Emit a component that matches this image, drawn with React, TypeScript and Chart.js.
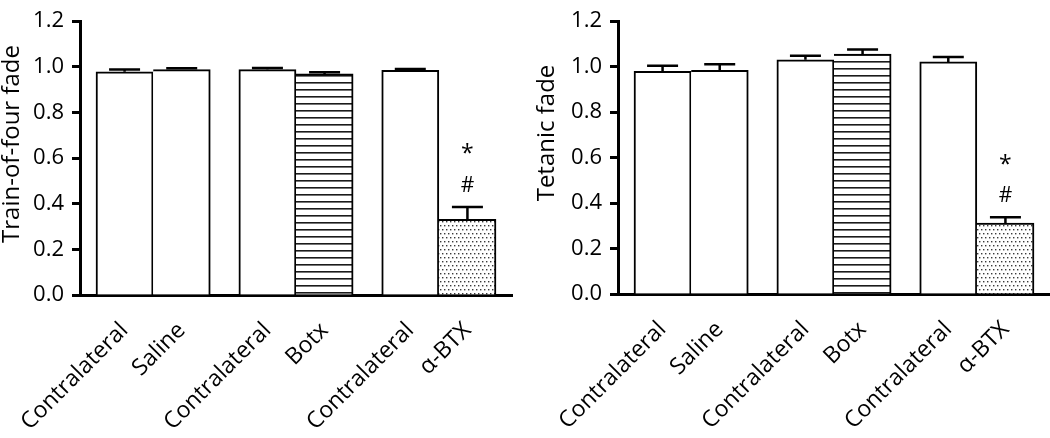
import React, { useEffect, useRef } from 'react';
import { Chart, registerables } from 'chart.js';

Chart.register(...registerables);

// ---------- data ----------
const categories = ['Contralateral', 'Saline', 'Contralateral', 'Botx', 'Contralateral', 'α-BTX'];
const tofValues = [0.978, 0.988, 0.988, 0.969, 0.985, 0.332];
const tofErrors = [0.010, 0.006, 0.007, 0.007, 0.006, 0.054];
const tetanicValues = [0.980, 0.984, 1.030, 1.055, 1.021, 0.312];
const tetanicErrors = [0.024, 0.027, 0.018, 0.020, 0.021, 0.026];
const yTickValues = [0, 0.2, 0.4, 0.6, 0.8, 1.0, 1.2];
const markedBarIndex = 5;
const markerSymbols = ['*', '#'];

// ---------- layout / style ----------
const FONT = '"Open Sans", sans-serif';
Chart.defaults.font.family = FONT;
Chart.defaults.color = '#000';

// bars come in groups of two (contralateral + treated), half a bar gap between groups
const barPositions = categories.map((_, i) => Math.floor(i / 2) * 2.5 + (i % 2));
const fillKinds = ['plain', 'plain', 'plain', 'stripes', 'plain', 'dots'];

function makeStripes(ctx: CanvasRenderingContext2D) {
  const c = document.createElement('canvas');
  c.width = 8;
  c.height = 7;
  const g = c.getContext('2d')!;
  g.fillStyle = '#fff';
  g.fillRect(0, 0, 8, 7);
  g.fillStyle = '#1a1a1a';
  g.fillRect(0, 5, 8, 1.6);
  return ctx.createPattern(c, 'repeat')!;
}

function makeDots(ctx: CanvasRenderingContext2D) {
  const c = document.createElement('canvas');
  c.width = 4;
  c.height = 8;
  const g = c.getContext('2d')!;
  g.fillStyle = '#fff';
  g.fillRect(0, 0, 4, 8);
  g.fillStyle = '#3a3a3a';
  g.fillRect(0, 1, 1.4, 1.4);
  g.fillRect(2, 5, 1.4, 1.4);
  return ctx.createPattern(c, 'repeat')!;
}

type PanelProps = {
  values: number[];
  errors: number[];
  title: string;
  titleY: number;
  left: number;
  width: number;
  axisWidth: number;
  padRight: number;
  axisHeight: number;
  padTop: number;
  marked: boolean;
};

function Panel(p: PanelProps) {
  const ref = useRef<HTMLCanvasElement>(null);
  useEffect(() => {
    const canvas = ref.current!;
    const ctx = canvas.getContext('2d')!;
    const stripes = makeStripes(ctx);
    const dots = makeDots(ctx);
    const fills = fillKinds.map((k) => (k === 'stripes' ? stripes : k === 'dots' ? dots : '#fff'));

    const annotatePlugin = {
      id: 'errorBarsAndTitle',
      afterDatasetsDraw(chart: any) {
        const c = chart.ctx as CanvasRenderingContext2D;
        const y = chart.scales.y;
        const meta = chart.getDatasetMeta(0);
        c.save();
        c.strokeStyle = '#000';
        c.lineWidth = 2.5;
        meta.data.forEach((bar: any, i: number) => {
          const v = p.values[i];
          const e = p.errors[i];
          const yBar = y.getPixelForValue(v);
          const yTop = y.getPixelForValue(v + e);
          c.beginPath();
          c.moveTo(bar.x, yBar);
          c.lineTo(bar.x, yTop);
          c.moveTo(bar.x - 15.5, yTop);
          c.lineTo(bar.x + 15.5, yTop);
          c.stroke();
          if (p.marked && i === markedBarIndex) {
            c.fillStyle = '#000';
            c.textAlign = 'center';
            c.textBaseline = 'middle';
            c.font = `21px ${FONT}`;
            c.fillText(markerSymbols[1], bar.x, yTop - 21);
            c.font = `23px ${FONT}`;
            c.fillText(markerSymbols[0], bar.x, yTop - 52);
          }
        });
        // y-axis title
        c.translate(12, p.titleY);
        c.rotate(-Math.PI / 2);
        c.fillStyle = '#000';
        c.textAlign = 'center';
        c.textBaseline = 'middle';
        c.font = `24px ${FONT}`;
        c.fillText(p.title, 0, 0);
        c.restore();
      },
    };

    const chart = new Chart(canvas, {
      type: 'bar',
      data: {
        datasets: [
          {
            label: p.title,
            data: p.values.map((v, i) => ({ x: barPositions[i], y: v })),
            backgroundColor: fills as any,
            borderColor: '#000',
            borderWidth: ((c: any) =>
              c.dataIndex % 2 === 1 ? { top: 2, right: 2, left: 0, bottom: 0 } : 2) as any,
            categoryPercentage: 1,
            barPercentage: 1,
          },
        ],
      },
      options: {
        animation: false,
        responsive: false,
        layout: { padding: { top: p.padTop, right: p.padRight, left: 0, bottom: 0 } },
        plugins: { legend: { display: false }, tooltip: { enabled: false } },
        scales: {
          x: {
            type: 'linear',
            min: -0.78,
            max: 6.78,
            offset: false,
            grid: { display: false },
            border: { display: true, color: '#000', width: 3 },
            afterBuildTicks: (s: any) => {
              s.ticks = barPositions.map((v) => ({ value: v }));
            },
            afterFit: (s: any) => {
              s.height = p.axisHeight;
            },
            ticks: {
              autoSkip: false,
              minRotation: 45,
              maxRotation: 45,
              padding: 14,
              font: { size: 23 },
              color: '#000',
              callback: (_v: any, i: number) => categories[i],
            },
          },
          y: {
            type: 'linear',
            min: 0,
            max: 1.2,
            grid: {
              display: true,
              drawOnChartArea: false,
              drawTicks: true,
              tickLength: 8,
              tickWidth: 3,
              tickColor: '#000',
            },
            border: { display: true, color: '#000', width: 3 },
            afterBuildTicks: (s: any) => {
              s.ticks = yTickValues.map((v) => ({ value: v }));
            },
            afterFit: (s: any) => {
              s.width = p.axisWidth;
            },
            ticks: {
              padding: 8,
              font: { size: 22 },
              color: '#000',
              callback: (v: any) => Number(v).toFixed(1),
            },
            title: { display: false },
          },
        },
      },
      plugins: [annotatePlugin],
    } as any);
    return () => chart.destroy();
  }, []);
  return (
    <div style={{ position: 'absolute', left: p.left, top: 0, width: p.width, height: 438 }}>
      <canvas ref={ref} width={p.width} height={438} style={{ display: 'block' }} />
    </div>
  );
}

export default function App() {
  return (
    <div style={{ position: 'absolute', left: 0, top: 0, width: 1050, height: 438, background: '#fff' }}>
      <Panel
        values={tofValues}
        errors={tofErrors}
        title="Train-of-four fade"
        titleY={144}
        left={0}
        width={525}
        axisWidth={80}
        padRight={13}
        axisHeight={143}
        padTop={12}
        marked={true}
      />
      <Panel
        values={tetanicValues}
        errors={tetanicErrors}
        title="Tetanic fade"
        titleY={133}
        left={535}
        width={515}
        axisWidth={83}
        padRight={0}
        axisHeight={144}
        padTop={10}
        marked={true}
      />
    </div>
  );
}
